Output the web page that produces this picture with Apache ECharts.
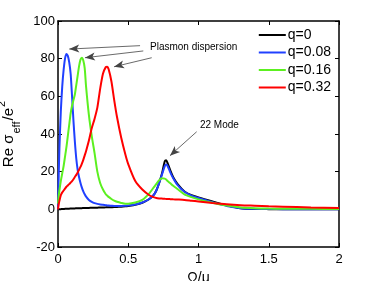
<!DOCTYPE html>
<html>
<head>
<meta charset="utf-8">
<script src="https://cdn.jsdelivr.net/npm/echarts@6/dist/echarts.min.js"></script>
<style>html,body{margin:0;padding:0;background:#fff}#c{width:374px;height:281px}</style>
</head>
<body>
<div id="c"></div>
<script>
var xs = [0,0.005,0.01,0.02,0.03,0.04,0.05,0.06,0.07,0.08,0.09,0.1,0.11,0.12,0.13,0.14,0.15,0.16,0.17,0.18,0.19,0.2,0.22,0.24,0.26,0.28,0.3,0.32,0.34,0.35,0.36,0.38,0.4,0.42,0.45,0.48,0.5,0.55,0.6,0.65,0.68,0.7,0.72,0.74,0.76,0.77,0.78,0.8,0.82,0.85,0.9,0.95,1.0,1.1,1.2,1.3,1.4,1.5,1.6,1.8,2.0];
var q0 = [0,0.02,0.05,0.1,0.15,0.2,0.25,0.3,0.33,0.36,0.4,0.43,0.46,0.5,0.52,0.55,0.58,0.6,0.63,0.66,0.68,0.7,0.75,0.8,0.85,0.9,0.95,1.0,1.05,1.08,1.1,1.15,1.2,1.3,1.4,1.6,1.8,2.4,3.5,5.5,7.5,10,14,19,25.5,26,24.5,20.5,17,13.5,9.5,7.5,6.3,4.2,2.2,0.6,0.2,0.1,0.05,0.02,0];
var q008 = [0,18,32,52,65,74,80,82.5,81.5,78,72,60,47,36,27,21,17,14,11.5,9.5,8,6.7,5,4,3.3,2.9,2.6,2.4,2.2,2.1,2.0,1.9,1.8,1.8,1.8,1.9,2.0,2.6,3.6,5.5,7.5,10,14,18.5,23,23.8,23,19.5,16.5,13,9.3,7.3,6,3.8,1.8,0.6,0.3,0.15,0.1,0.05,0];
var q016 = [3,7,10,15,19,23,28,33,39,45,51,55,58,61,66,71,76,79.5,80.5,79,75,65,50,39,30,20,14,10.5,8,7.3,6.6,5.5,4.6,4,3.4,3.0,3.0,3.6,5,8.5,11.5,13.5,15.5,16.5,16.3,15.8,15,13.8,12.5,10.8,8,6.5,5.3,3.5,2,1,0.6,0.4,0.3,0.25,0.2];
var q032 = [0,2.5,4.5,7.5,9,10,11,12,12.7,13.4,14.2,15,16,17.2,18.3,19.6,21,22.5,24.3,26.3,28.6,31,36.5,43,48,54,64,72,75.5,75.7,74.5,68,58,49,38,29,24,15,10.5,7.5,6.5,6,5.8,5.7,5.6,5.5,5.5,5.4,5.3,5.2,5.0,4.6,4.2,3.4,2.7,2.2,1.9,1.6,1.4,1.0,0.7];
var seriesNames = ['q=0','q=0.08','q=0.16','q=0.32'];
var seriesColors = ['#000000','#2040ff','#5cf020','#ff0000'];
var xTicks = [0,0.5,1,1.5,2];
var yTicks = [-20,0,20,40,60,80,100];
var arrows = [
  [[0.584,86.9],[0.080,85.1]],
  [[0.607,84.1],[0.192,80.5]],
  [[0.667,80.5],[0.399,75.7]],
  [[0.987,41.2],[0.797,28.5]]
];
var notes = [
  {text:'Plasmon dispersion', at:[0.655,85.9]},
  {text:'22 Mode', at:[1.01,44.8]}
];

var font = 'Liberation Sans, Arial, Helvetica, sans-serif';
var allY = [q0,q008,q016,q032];
function pairs(ys){ return xs.map(function(x,i){ return [x, ys[i]]; }); }

var series = allY.map(function(ys, k){
  return {
    name: seriesNames[k], type:'line', data: pairs(ys), showSymbol:false, symbol:'none',
    smooth: 0.25, lineStyle:{width:2, color: seriesColors[k]}, itemStyle:{color: seriesColors[k]},
    z: 2 + k
  };
});
series[0].markLine = {
  silent:true, symbol:['none','arrow'], symbolSize:[6,10],
  lineStyle:{color:'#444', width:0.8, type:'solid'}, label:{show:false},
  data: arrows.map(function(a){ return [{coord:a[0]},{coord:a[1]}]; }),
  animation:false
};
series.push({type:'line', xAxisIndex:1, yAxisIndex:1, data:[], showSymbol:false});

var chart = echarts.init(document.getElementById('c'));
function axisCommon(){
  return {
    axisLine:{show:true, onZero:false, lineStyle:{color:'#000', width:1.5}},
    axisTick:{show:true, inside:true, length:4, lineStyle:{color:'#000', width:1}},
    splitLine:{show:false}
  };
}
chart.setOption({
  animation:false,
  grid:{left:58, right:35, top:21, bottom:34, outerBoundsMode:'none'},
  legend:{
    data: seriesNames, right:38, top:23, orient:'vertical', itemWidth:27, itemHeight:12, itemGap:3.5,
    textStyle:{fontFamily:font, fontSize:14, color:'#000', padding:[0,0,0,-3]}, icon:'path://M0,5L27,5L27,7L0,7Z'
  },
  xAxis:[
    Object.assign({type:'value', min:0, max:2, interval:0.5, position:'bottom',
      axisLabel:{fontFamily:font, fontSize:13, color:'#000', margin:6,
        formatter:function(v){ return xTicks.indexOf(v)>=0 ? String(v) : ''; }},
      name:'Ω/μ', nameLocation:'middle', nameGap:15,
      nameTextStyle:{fontFamily:font, fontSize:14, color:'#000'}}, axisCommon()),
    Object.assign({type:'value', min:0, max:2, interval:0.5, position:'top', axisLabel:{show:false}}, axisCommon())
  ],
  yAxis:[
    Object.assign({type:'value', min:-20, max:100, interval:20, position:'left',
      axisLabel:{fontFamily:font, fontSize:13, color:'#000', margin:3,
        formatter:function(v){ return yTicks.indexOf(v)>=0 ? String(v) : ''; }},
      name:'{a|Re σ}{b|eff}{a|/e}{c|2}', nameLocation:'middle', nameRotate:90, nameGap:36,
      nameTextStyle:{fontFamily:font, color:'#000',
        rich:{
          a:{fontFamily:font, fontSize:15, color:'#000', lineHeight:26, verticalAlign:'middle'},
          b:{fontFamily:font, fontSize:11, color:'#000', lineHeight:26, verticalAlign:'bottom', padding:[0,1,0,1]},
          c:{fontFamily:font, fontSize:11, color:'#000', lineHeight:26, verticalAlign:'top', padding:[0,0,0,1]}
        }}}, axisCommon()),
    Object.assign({type:'value', min:-20, max:100, interval:20, position:'right', axisLabel:{show:false}}, axisCommon())
  ],
  series: series
});

var g = notes.map(function(n){
  var p = chart.convertToPixel({xAxisIndex:0, yAxisIndex:0}, n.at);
  return {type:'text', x:p[0], y:p[1], silent:true,
    style:{text:n.text, fontFamily:font, fontSize:10, fill:'#000', textAlign:'left', textVerticalAlign:'middle'}};
});
chart.setOption({graphic: g});
</script>
</body>
</html>
